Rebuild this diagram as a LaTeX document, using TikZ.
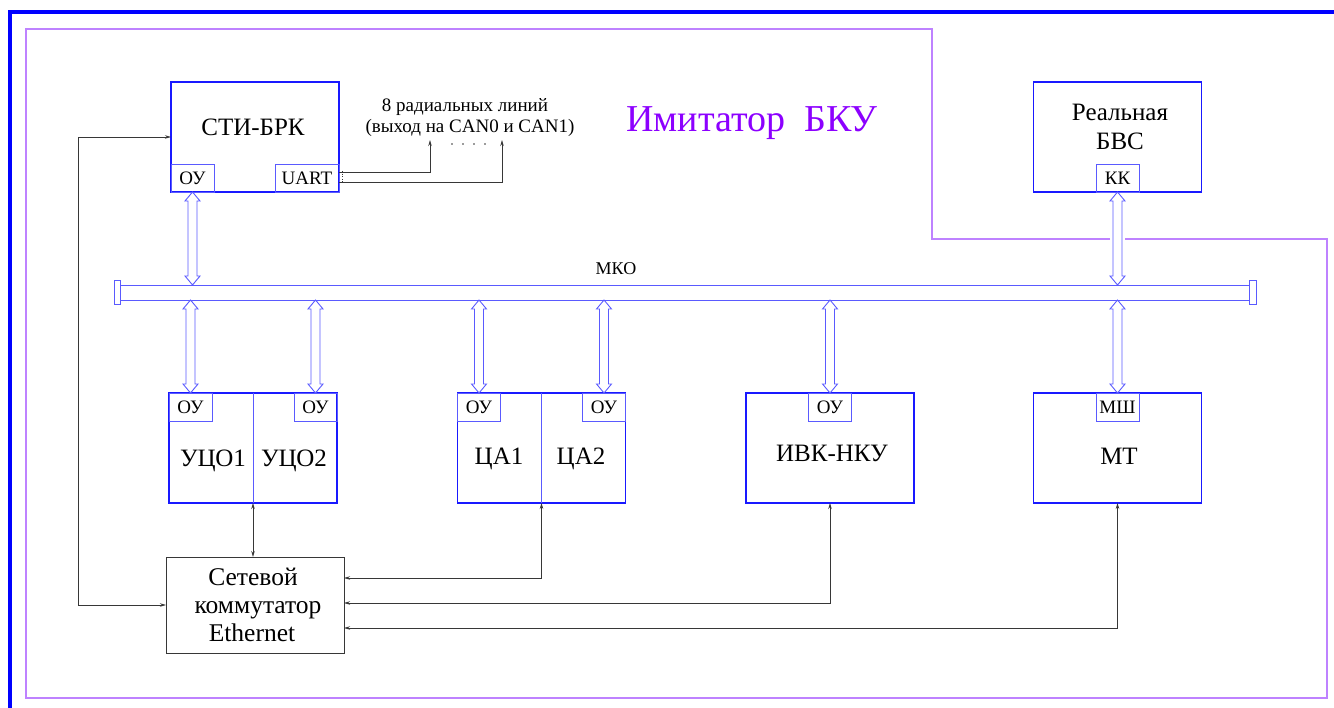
\documentclass[tikz,border=0pt]{standalone}
\usepackage{fontspec}
\setmainfont{Liberation Serif}
\usetikzlibrary{calc,arrows.meta}
\definecolor{frameblue}{RGB}{0,0,255}
\definecolor{boxblue}{RGB}{25,25,255}
\definecolor{subblue}{RGB}{90,90,255}
\definecolor{lilac}{RGB}{190,130,255}
\definecolor{titleviolet}{RGB}{140,0,255}
\definecolor{wire}{RGB}{55,55,55}
\newcommand\hollowarrow[2]{%
  \draw[hol] (#1) -- ++(7.5,9) -- ++(-3,0) -- ($(#2)+(4.5,-9)$) -- ++(3,0) -- (#2)
    -- ++(-7.5,-9) -- ++(3,0) -- ($(#1)+(-4.5,9)$) -- ++(-3,0) -- cycle;}
\begin{document}
\begin{tikzpicture}[x=1pt,y=-1pt,
  mainbox/.style={draw=boxblue, line width=1.8pt, inner sep=0pt, outer sep=0pt, minimum width=168pt, minimum height=110pt},
  subbox/.style={draw=subblue, line width=0.9pt, inner sep=0pt, outer sep=0pt, minimum width=43pt, minimum height=28pt, font=\fontsize{19}{22}\selectfont},
  divider/.style={draw=subblue, line width=0.9pt},
  hol/.style={draw=subblue, line width=0.9pt, fill=white},
  lab/.style={anchor=base, inner sep=0pt, font=\fontsize{25}{29}\selectfont},
  swl/.style={anchor=base, inner sep=0pt, font=\fontsize{25.5}{29}\selectfont},
  note/.style={anchor=base, inner sep=0pt, font=\fontsize{19}{22}\selectfont},
  conn/.style={draw=wire, line width=0.8pt, {Stealth[length=6pt,width=3.5pt]}-{Stealth[length=6pt,width=3.5pt]}},
  conn1/.style={draw=wire, line width=0.8pt, -{Stealth[length=6pt,width=3.5pt]}},
  dot/.style={fill=wire, draw=none, circle, inner sep=0pt, minimum size=1.6pt}]
\useasboundingbox (0,0) rectangle (1334,708);

% frames
\draw[frameblue, line width=4pt] (10,708) -- (10,12) -- (1334,12);
\draw[lilac, line width=1.3pt] (1110,239) -- (932,239) -- (932,29) -- (26,29) -- (26,698) -- (1327,698) -- (1327,239) -- (1125,239);

% title
\node[anchor=base, inner sep=0pt, text=titleviolet, font=\fontsize{38}{42}\selectfont] (title) at (752,132) {Имитатор~~БКУ};

% СТИ-БРК
\node[mainbox] (sti) at (255,137) {};
\node[subbox, anchor=south west] (stiou) at (sti.south west) {ОУ};
\node[subbox, anchor=south east, minimum width=64pt] (uart) at (sti.south east) {UART};
\node[lab] (stilab) at (253,135.5) {СТИ-БРК};

% Реальная БВС
\node[mainbox] (bvs) at (1117.5,137) {};
\node[subbox, anchor=south] (kk) at (bvs.south) {КК};
\node[lab] (bvslab1) at (1120,121) {Реальная};
\node[lab] (bvslab2) at (1120,150) {БВС};

% radial lines text
\node[note] (rad1) at (465,112) {8 радиальных линий};
\node[note] (rad2) at (470,133) {(выход на CAN0 и CAN1)};
\node[dot] (d1) at (452,144) {};
\node[dot] (d2) at (463,144) {};
\node[dot] (d3) at (474,144) {};
\node[dot] (d4) at (485,144) {};
\coordinate (can0) at (430,140);
\coordinate (can1) at (502,140);
\draw[conn1] ($(uart.east)+(0,-6)$) -| (can0);
\draw[conn1] ($(uart.east)+(0,4)$) -| (can1);
\draw[wire, dotted, line width=0.6pt] ($(uart.east)+(3,-7)$) -- ++(0,12);

% bus
\node[draw=subblue, line width=0.9pt, minimum width=1130pt, minimum height=15pt, inner sep=0pt, outer sep=0pt] (bus) at (685,292.5) {};
\node[draw=subblue, fill=white, line width=0.9pt, minimum width=6.5pt, minimum height=23.5pt, inner sep=0pt, outer sep=0pt] (capl) at (117.5,292.5) {};
\node[draw=subblue, fill=white, line width=0.9pt, minimum width=6.5pt, minimum height=23.5pt, inner sep=0pt, outer sep=0pt] (capr) at (1253,292.5) {};
\node[anchor=base, inner sep=0pt, font=\fontsize{18}{22}\selectfont] (mko) at (616,275) {МКО};

% УЦО
\node[mainbox] (uco) at (253,448) {};
\draw[divider] (uco.north) -- (uco.south);
\node[subbox, anchor=north west] (ucoou1) at (uco.north west) {ОУ};
\node[subbox, anchor=north east] (ucoou2) at (uco.north east) {ОУ};
\node[lab] (uco1lab) at (213,467) {УЦО1};
\node[lab] (uco2lab) at (294,467) {УЦО2};

% ЦА
\node[mainbox] (ca) at (541.5,448) {};
\draw[divider] (ca.north) -- (ca.south);
\node[subbox, anchor=north west] (caou1) at (ca.north west) {ОУ};
\node[subbox, anchor=north east] (caou2) at (ca.north east) {ОУ};
\node[lab] (ca1lab) at (499,465) {ЦА1};
\node[lab] (ca2lab) at (581,465) {ЦА2};

% ИВК-НКУ
\node[mainbox] (ivk) at (830,448) {};
\node[subbox, anchor=north] (ivkou) at (ivk.north) {ОУ};
\node[lab] (ivklab) at (832,462) {ИВК-НКУ};

% МТ
\node[mainbox] (mt) at (1117.5,448) {};
\node[subbox, anchor=north] (msh) at (mt.north) {МШ};
\node[lab] (mtlab) at (1119,465) {МТ};

% switch
\node[draw=wire, line width=1pt, minimum width=178pt, minimum height=96pt, inner sep=0pt, outer sep=0pt] (sw) at (255,605) {};
\node[swl] (swlab1) at (253,585) {Сетевой};
\node[swl] (swlab2) at (258,613) {коммутатор};
\node[swl] (swlab3) at (252,641) {Ethernet};

% hollow double arrows
\coordinate (a1) at (stiou.south |- bus.north);
\hollowarrow{stiou.south}{a1}
\coordinate (a2) at (kk.south |- bus.north);
\hollowarrow{kk.south}{a2}
\coordinate (b1) at (ucoou1.north |- bus.south);
\hollowarrow{b1}{ucoou1.north}
\coordinate (b2) at (ucoou2.north |- bus.south);
\hollowarrow{b2}{ucoou2.north}
\coordinate (b3) at (caou1.north |- bus.south);
\hollowarrow{b3}{caou1.north}
\coordinate (b4) at (caou2.north |- bus.south);
\hollowarrow{b4}{caou2.north}
\coordinate (b5) at (ivkou.north |- bus.south);
\hollowarrow{b5}{ivkou.north}
\coordinate (b6) at (msh.north |- bus.south);
\hollowarrow{b6}{msh.north}

% ethernet connectors
\draw[conn] (sti.west) -- ++(-93,0) |- (sw.west);
\draw[conn] (uco.south) -- (uco.south |- sw.north);
\draw[conn] (ca.south) |- ($(sw.north east)+(0,21)$);
\draw[conn] (ivk.south) |- ($(sw.north east)+(0,46)$);
\draw[conn] (mt.south) |- ($(sw.north east)+(0,71)$);
\end{tikzpicture}
\end{document}
